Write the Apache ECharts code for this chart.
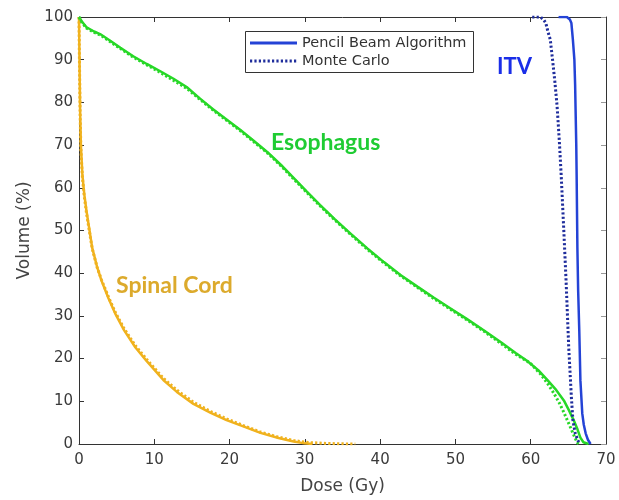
<!DOCTYPE html>
<html>
<head>
<meta charset="utf-8">
<script src="https://cdn.jsdelivr.net/npm/echarts@6/dist/echarts.min.js"></script>
<style>html,body{margin:0;padding:0;background:#fff}#c{width:619px;height:500px}</style>
</head>
<body>
<div id="c"></div>
<script>
// Dose (Gy), Volume (%)
var esoPBA = [[0,100],[0.35,99],[1,97.6],[2,96.6],[2.8,96],[4,94.6],[5.5,92.8],[7.2,90.8],[9,89],[10.8,87.3],[12.5,85.6],[14.3,83.6],[16,81],[17.8,78.4],[19.6,76],[21.4,73.6],[23.2,71],[25,68.4],[26.8,65.4],[28.5,62.3],[30.2,59.2],[32,56],[34,52.6],[36,49.4],[38.3,45.8],[40.5,42.6],[42.7,39.6],[45,36.8],[47.1,34.3],[49.3,31.8],[51.5,29.3],[53.8,26.6],[56,23.9],[58,21.3],[59.5,19.5],[61,17.3],[62.2,15],[63.4,12.6],[64.4,10.2],[65.1,7.8],[65.7,5.6],[66.2,3.5],[66.6,1.5],[67,0.4],[67.7,0]];
var esoMC  = [[0,100],[0.35,98.8],[1,97.4],[2,96.4],[2.8,95.8],[4,94.4],[5.5,92.6],[7.2,90.6],[9,88.8],[10.8,87],[12.5,85.2],[14.3,83.3],[16,80.8],[17.8,78.2],[19.6,75.8],[21.4,73.4],[23.2,70.8],[25,68.2],[26.8,65.2],[28.5,62.1],[30.2,59],[32,55.8],[34,52.4],[36,49.2],[38.3,45.6],[40.5,42.4],[42.7,39.4],[45,36.6],[47.1,34.1],[49.3,31.6],[51.5,29.1],[53.8,26.4],[56,23.6],[58,21],[59.9,19],[61.3,16.4],[62.3,14],[63.1,11.8],[63.8,9.6],[64.4,7.4],[64.9,5.4],[65.4,3.4],[65.9,1.4],[66.2,0.3],[66.4,0]];
var cordPBA = [[0,100],[0.05,92],[0.1,85],[0.15,78],[0.25,70],[0.45,63],[0.7,58.5],[1.0,54.5],[1.4,50],[1.75,46],[2.4,41.5],[3.0,38.2],[3.9,34.2],[4.8,30.6],[6,26.6],[7.5,22.6],[9,19.4],[11.2,15],[13,12.2],[15.2,9.4],[17.5,7.3],[19.6,5.6],[22,4],[24.1,2.6],[26.5,1.4],[28.5,0.6],[30,0.15],[31,0]];
var cordMC  = [[0,100],[0.05,91],[0.1,84],[0.15,77],[0.25,69],[0.45,62.5],[0.7,58],[1.0,54],[1.4,49.6],[1.75,45.8],[2.4,41.4],[3.0,38.4],[3.9,34.5],[4.8,30.9],[6,27],[7.5,23],[9,19.8],[11.2,15.4],[13,12.6],[15.2,9.8],[17.5,7.6],[19.6,5.9],[22,4.2],[24.1,2.8],[26.5,1.6],[28.5,0.8],[30.5,0.35],[32.5,0.15],[34.5,0.05],[36.7,0]];
var itvPBA = [[63.7,100],[64.8,100],[65.2,99.4],[65.4,98.6],[65.6,94.7],[65.8,90],[65.9,84],[65.95,79.2],[66.05,70],[66.1,62.9],[66.2,45.9],[66.3,36],[66.45,26.6],[66.6,14.9],[66.85,7.1],[67.05,4.5],[67.3,2.5],[67.6,1],[67.95,0]];
var itvMC  = [[60.2,100],[61.3,100],[61.7,99.4],[62,98.6],[62.3,96.5],[62.6,94.7],[62.9,90],[63.2,85],[63.5,79.2],[63.8,71],[64.05,62.9],[64.4,49.8],[64.7,38.1],[65.05,22.6],[65.4,11],[65.6,5.6],[65.9,2.6],[66.25,0.9],[66.5,0]];
var xTicks = [0,10,20,30,40,50,60,70];
var yTicks = [0,10,20,30,40,50,60,70,80,90,100];
var legendNames = ['Pencil Beam Algorithm','Monte Carlo'];

var GREEN = '#27d827', ORANGE = '#f0b21e', BLUE = '#2443d6', NAVY = '#1f2d9c';
var DOT = [2.2,2.2];
function ser(name, data, color, dotted, w, z){
  return {type:'line', name:name, data:data, showSymbol:false, symbol:'none', silent:true, z:z,
    lineStyle:{color:color, width:w, type: dotted ? DOT : 'solid', cap:'butt'}};
}
var chart = echarts.init(document.getElementById('c'), null, {renderer:'canvas'});
var labelStyle = {color:'#3a3a3a', fontSize:15, fontFamily:'DejaVu Sans'};
chart.setOption({
  animation:false,
  backgroundColor:'#fff',
  grid:{left:79, top:17, right:13, bottom:53, containLabel:false},
  xAxis:[
    {type:'value', min:0, max:70, interval:10, position:'bottom',
     axisLine:{show:true, onZero:false, lineStyle:{color:'#333', width:1}},
     axisTick:{show:true, inside:true, length:5, lineStyle:{color:'#333'}},
     axisLabel:Object.assign({margin:9, formatter:function(v){return xTicks.indexOf(v)>=0?String(v):'';}}, labelStyle),
     splitLine:{show:false},
     name:'Dose (Gy)', nameLocation:'middle', nameGap:34,
     nameTextStyle:{color:'#444', fontSize:17, fontFamily:'DejaVu Sans'}},
    {type:'value', min:0, max:70, interval:10, position:'top',
     axisLine:{show:true, onZero:false, lineStyle:{color:'#333', width:1}},
     axisTick:{show:true, inside:true, length:5, lineStyle:{color:'#333'}},
     axisLabel:{show:false}, splitLine:{show:false}}
  ],
  yAxis:[
    {type:'value', min:0, max:100, interval:10, position:'left',
     axisLine:{show:true, onZero:false, lineStyle:{color:'#333', width:1}},
     axisTick:{show:true, inside:true, length:5, lineStyle:{color:'#333'}},
     axisLabel:Object.assign({margin:6, formatter:function(v){return yTicks.indexOf(v)>=0?String(v):'';}}, labelStyle),
     splitLine:{show:false},
     name:'Volume (%)', nameLocation:'middle', nameGap:40, nameRotate:90,
     nameTextStyle:{color:'#444', fontSize:17, fontFamily:'DejaVu Sans'}},
    {type:'value', min:0, max:100, interval:10, position:'right',
     axisLine:{show:true, onZero:false, lineStyle:{color:'#333', width:1}},
     axisTick:{show:true, inside:true, length:5, lineStyle:{color:'#999'}},
     axisLabel:{show:false}, splitLine:{show:false}}
  ],
  series:[
    ser('Spinal Cord PBA', cordPBA, ORANGE, false, 2.5, 3),
    ser('Spinal Cord MC', cordMC, ORANGE, true, 3, 4),
    ser('Esophagus PBA', esoPBA, GREEN, false, 2.5, 3),
    ser('Esophagus MC', esoMC, GREEN, true, 3, 4),
    ser(legendNames[0], itvPBA, BLUE, false, 2.5, 3),
    ser(legendNames[1], itvMC, NAVY, true, 3, 4)
  ],
  graphic:[
    {type:'rect', shape:{x:245.5, y:31.5, width:228, height:41}, style:{fill:'#fff', stroke:'#333', lineWidth:1}, z:10},
    {type:'line', shape:{x1:250, y1:43, x2:297, y2:43}, style:{stroke:BLUE, lineWidth:3}, z:11},
    {type:'line', shape:{x1:250, y1:61, x2:297, y2:61}, style:{stroke:NAVY, lineWidth:3, lineDash:DOT}, z:11},
    {type:'text', x:302, y:43, style:{text:legendNames[0], fill:'#333', font:'14.5px "DejaVu Sans"', verticalAlign:'middle'}, z:11},
    {type:'text', x:302, y:61, style:{text:legendNames[1], fill:'#333', font:'14.5px "DejaVu Sans"', verticalAlign:'middle'}, z:11},
    {type:'text', x:271, y:143, style:{text:'Esophagus', fill:'#1fcc33', font:'bold 23px Lato', verticalAlign:'middle'}, z:11},
    {type:'text', x:116, y:286, style:{text:'Spinal Cord', fill:'#dcaa2c', font:'bold 23px Lato', verticalAlign:'middle'}, z:11},
    {type:'text', x:497, y:67, style:{text:'ITV', fill:'#1a2ee8', font:'bold 22px Lato', verticalAlign:'middle'}, z:11}
  ]
});
</script>
</body>
</html>
